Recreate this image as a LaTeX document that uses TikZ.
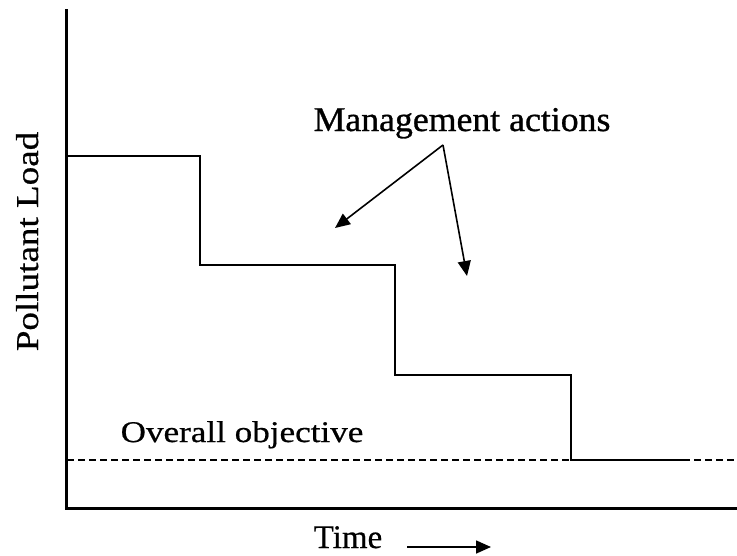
\documentclass[tikz,border=0pt]{standalone}
\usepackage{fontspec}
\setmainfont{Liberation Serif}
\newfontfamily\wideserif[FakeStretch=1.17,FakeBold=0.6]{Liberation Serif}
\newfontfamily\mgmtserif[FakeStretch=1.03,FakeBold=0.9]{Liberation Serif}
\newfontfamily\timeserif[FakeBold=0.6]{Liberation Serif}
\usetikzlibrary{arrows.meta}
\usetikzlibrary{positioning}

\tikzset{
  label/.style={inner sep=0pt, anchor=base},
  ptr/.style={line width=1.6pt, -{Triangle[length=15pt,width=13pt]}},
}

\begin{document}
\begin{tikzpicture}[x=1pt,y=-1pt]
          \useasboundingbox (0,0) rectangle (737,555);
          % axes
          \draw[line width=2.2pt] (66.5,9) -- (66.5,508);
          \draw[line width=3pt] (65.4,508) -- (737,508);
          % objective and load steps
          \draw[line width=1.6pt, dash pattern=on 7pt off 4pt] (67,460) -- (737,460);
          \draw[line width=2pt] (67,155.5) -- (200,155.5) -- (200,265) -- (395,265)
               -- (395,375) -- (571,375) -- (571,460) -- (687,460);
          % labels
          \node[label] (mgmt) at (462,131) {\mgmtserif\fontsize{34.7}{40}\selectfont Management actions};
          \node[label] (obj) at (242,442) {\wideserif\fontsize{30}{36}\selectfont Overall objective};
          \node[label, rotate=90] (load) at (38,241.5) {\wideserif\fontsize{31.7}{38}\selectfont Pollutant Load};
          \node[label] (time) at (348,548) {\timeserif\fontsize{33}{40}\selectfont Time};
          % arrows
          \coordinate (apex) at (443,145);
          \coordinate (left) at (335,228);
          \coordinate (right) at (467,276);
          \draw[ptr] (apex) -- (left);
          \draw[ptr] (apex) -- (right);
          \coordinate (ts) at (407,547);
          \coordinate (te) at (491,547);
          \draw[ptr] (ts) -- (te);
        \end{tikzpicture}
\end{document}
